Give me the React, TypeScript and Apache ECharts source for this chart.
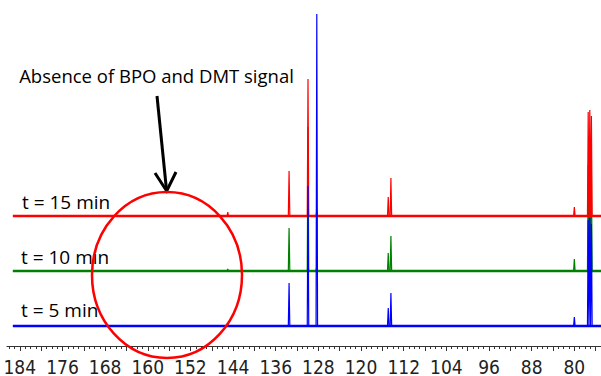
import React, { useEffect, useRef } from "react";
import * as echarts from "echarts";

// ppm axis (inverted, NMR style)
const AXIS_MAX = 186.4;
const AXIS_MIN = 75.0;
const BASE_START = 185.3;
const TICK_LABELS = [184, 176, 168, 160, 152, 144, 136, 128, 120, 112, 104, 96, 88, 80];
const MINOR_TICKS = Array.from({ length: 186 - 76 + 1 }, (_, i) => 186 - i);
const MAJOR_TICKS = [184, 180, 176, 172, 168, 164, 160, 156, 152, 148, 144, 140, 136, 132, 128, 124, 120, 116, 112, 108, 104, 100, 96, 92, 88, 84, 80, 76];

// spectra: vertical offsets (stacking) and peaks
const SERIES_NAMES = ["t = 15 min", "t = 10 min", "t = 5 min"];
const OFFSET_T15 = 130;
const OFFSET_T10 = 75;
const OFFSET_T5 = 20;
const PEAK_PPM = [145.0, 133.5, 129.95, 128.3, 114.9, 114.4, 80.0, 77.4, 77.1, 76.8];
const H_T15 = [4, 45, 137, 6, 19, 38, 9, 104, 106, 100];
const H_T10 = [2, 43, 144, 5, 18, 35, 12, 106, 108, 102];
const H_T5 = [2, 43, 140, 312, 18, 33, 9, 106, 108, 102];

const COLORS = ["#ff0000", "#008000", "#0000ff"];

function buildSpectrum(offset: number, heights: number[]) {
  const pts: number[][] = [[BASE_START, offset]];
  const w = 0.14;
  PEAK_PPM.forEach((p, i) => {
    pts.push([p + w, offset]);
    pts.push([p, offset + heights[i]]);
    pts.push([p - w, offset]);
  });
  pts.push([AXIS_MIN, offset]);
  return pts;
}

export default function App() {
  const ref = useRef<HTMLDivElement>(null);
  useEffect(() => {
    if (!ref.current) return;
    const chart = echarts.init(ref.current, null, { renderer: "svg" });
    const specs = [
      { name: SERIES_NAMES[1], off: OFFSET_T10, h: H_T10, color: COLORS[1] },
      { name: SERIES_NAMES[0], off: OFFSET_T15, h: H_T15, color: COLORS[0] },
      { name: SERIES_NAMES[2], off: OFFSET_T5, h: H_T5, color: COLORS[2] },
    ];
    const series: any[] = [];
    specs.forEach((s) => {
      series.push({
        type: "line",
        name: s.name + " baseline",
        showSymbol: false,
        silent: true,
        data: [[BASE_START, s.off], [AXIS_MIN, s.off]],
        lineStyle: { color: s.color, width: 2.6 },
      });
      series.push({
        type: "line",
        name: s.name,
        showSymbol: false,
        silent: true,
        data: buildSpectrum(s.off, s.h),
        lineStyle: { color: s.color, width: 1.2 },
      });
    });
    const labelFont = "'Liberation Sans Narrow', 'DejaVu Sans Condensed', Arial, sans-serif";
    const textFont = "'Open Sans', 'Noto Sans', sans-serif";
    chart.setOption({
      animation: false,
      grid: { left: 7, right: 0, top: 0, bottom: 30, containLabel: false, outerBoundsMode: "none" },
      xAxis: [
        {
          type: "value",
          inverse: true,
          min: AXIS_MIN,
          max: AXIS_MAX,
          position: "bottom",
          axisLine: { show: true, lineStyle: { color: "#333", width: 1.2 } },
          axisTick: { show: true, length: 5, customValues: MAJOR_TICKS, lineStyle: { color: "#333" } },
          axisLabel: {
            show: true,
            customValues: TICK_LABELS,
            margin: 11,
            fontSize: 19,
            fontFamily: labelFont,
            color: "#222",
          },
          splitLine: { show: false },
        },
        {
          type: "value",
          inverse: true,
          min: AXIS_MIN,
          max: AXIS_MAX,
          position: "bottom",
          axisLine: { show: false },
          axisTick: { show: true, length: 3, customValues: MINOR_TICKS, lineStyle: { color: "#333" } },
          axisLabel: { show: false },
          splitLine: { show: false },
        },
      ],
      yAxis: { type: "value", min: 0, max: 346, show: false },
      series,
      graphic: [
        {
          type: "text",
          left: 22,
          top: 192,
          style: { text: SERIES_NAMES[0], font: `19px ${textFont}`, fill: "#000" },
          z: 100,
        },
        {
          type: "text",
          left: 21,
          top: 247,
          style: { text: SERIES_NAMES[1], font: `19px ${textFont}`, fill: "#000" },
          z: 100,
        },
        {
          type: "text",
          left: 21,
          top: 300,
          style: { text: SERIES_NAMES[2], font: `19px ${textFont}`, fill: "#000" },
          z: 100,
        },
        {
          type: "text",
          x: 156.5,
          y: 75,
          style: {
            text: "Absence of BPO and DMT signal",
            font: `18.5px ${textFont}`,
            fill: "#000",
            align: "center",
            verticalAlign: "middle",
          },
          z: 100,
        },
        {
          type: "line",
          shape: { x1: 157, y1: 96, x2: 166.5, y2: 190 },
          style: { stroke: "#000", lineWidth: 3 },
          z: 100,
        },
        {
          type: "polyline",
          shape: { points: [[155, 173], [166.7, 191], [176, 172]] },
          style: { stroke: "#000", lineWidth: 3, fill: "none" },
          z: 100,
        },
        {
          type: "ellipse",
          shape: { cx: 167, cy: 275, rx: 75, ry: 83 },
          style: { stroke: "#ff0000", lineWidth: 2.5, fill: "none" },
          z: 100,
        },
      ],
    });
    return () => chart.dispose();
  }, []);
  return (
    <div
      ref={ref}
      style={{ position: "absolute", left: 0, top: 0, width: 601, height: 376, background: "#fff" }}
    />
  );
}
